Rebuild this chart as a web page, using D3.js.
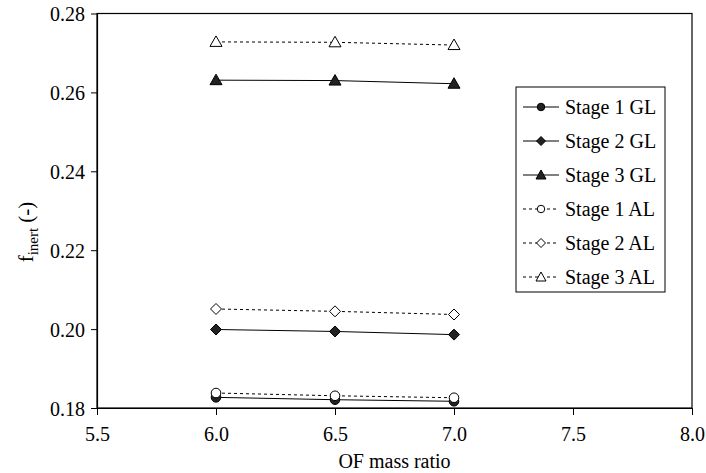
<!DOCTYPE html>
<html><head><meta charset="utf-8">
<script src="https://cdn.jsdelivr.net/npm/d3@7"></script>
<style>body{margin:0;background:#fff}svg{display:block}svg text{font-family:'Liberation Serif','Times New Roman',Times,'DejaVu Serif',serif !important;fill:#000}</style>
</head><body><svg id="c" width="706" height="473"></svg>
<script>
const ofRatio = [6.0, 6.5, 7.0];
const stage1GL = [0.1827, 0.1821, 0.1817];
const stage2GL = [0.1999, 0.1994, 0.1986];
const stage3GL = [0.2631, 0.2630, 0.2622];
const stage1AL = [0.1838, 0.1831, 0.1826];
const stage2AL = [0.2051, 0.2045, 0.2037];
const stage3AL = [0.2728, 0.2727, 0.2720];
const xTicks = [5.5, 6.0, 6.5, 7.0, 7.5, 8.0];
const yTicks = [0.18, 0.20, 0.22, 0.24, 0.26, 0.28];
const seriesNames = ["Stage 1 GL","Stage 2 GL","Stage 3 GL","Stage 1 AL","Stage 2 AL","Stage 3 AL"];

const series = [
  {name:seriesNames[0], v:stage1GL, shape:"circle", fill:true, dash:null},
  {name:seriesNames[1], v:stage2GL, shape:"diamond", fill:true, dash:null},
  {name:seriesNames[2], v:stage3GL, shape:"triangle", fill:true, dash:null},
  {name:seriesNames[3], v:stage1AL, shape:"circle", fill:false, dash:"3,3"},
  {name:seriesNames[4], v:stage2AL, shape:"diamond", fill:false, dash:"3,3"},
  {name:seriesNames[5], v:stage3AL, shape:"triangle", fill:false, dash:"3,3"}
];

const FONT = "'Liberation Serif','Times New Roman',Times,'DejaVu Serif',serif";
const L=97, R=692, T=13.5, B=408;
const svg = d3.select("#c");
const x = d3.scaleLinear().domain([5.5,8.0]).range([L,R]);
const y = d3.scaleLinear().domain([0.18,0.28]).range([B,T]);

svg.append("rect").attr("x",L).attr("y",T).attr("width",R-L).attr("height",B-T)
  .attr("fill","none").attr("stroke","#000").attr("stroke-width",1.2);

const xa = svg.append("g").attr("transform",`translate(0,${B})`)
  .call(d3.axisBottom(x).tickValues(xTicks).tickFormat(d3.format(".1f")).tickSize(7).tickSizeOuter(0).tickPadding(12));
const ya = svg.append("g").attr("transform",`translate(${L},0)`)
  .call(d3.axisLeft(y).tickValues(yTicks).tickFormat(d3.format(".2f")).tickSize(6).tickSizeOuter(0).tickPadding(6));
[xa,ya].forEach(g=>{
  g.attr("font-family",FONT).attr("font-size",20);
  g.select(".domain").attr("stroke","#000").attr("stroke-width",1.2);
  g.selectAll(".tick line").attr("stroke","#000");
  g.selectAll("text").attr("font-family",FONT).style("font-size","20px");
});
ya.selectAll("text").attr("dy","0.35em");

function symbolPath(shape){
  if(shape==="circle") return d3.symbol(d3.symbolCircle, 72)();
  if(shape==="diamond") return "M0,-5.5L5.5,0L0,5.5L-5.5,0Z";
  return "M0,-6L6,4.5L-6,4.5Z";
}
function symbolPathSmall(shape){
  if(shape==="circle") return d3.symbol(d3.symbolCircle, 44)();
  if(shape==="diamond") return "M0,-4.5L4.5,0L0,4.5L-4.5,0Z";
  return "M0,-5L5,4L-5,4Z";
}

const line = d3.line().x((d,i)=>x(ofRatio[i])).y(d=>y(d));
series.forEach(s=>{
  const g = svg.append("g");
  g.append("path").attr("d",line(s.v)).attr("fill","none").attr("stroke","#000")
    .attr("stroke-width",1).attr("stroke-dasharray",s.dash);
  g.selectAll("path.m").data(s.v).join("path").attr("class","m")
    .attr("d",symbolPath(s.shape))
    .attr("transform",(d,i)=>`translate(${x(ofRatio[i])},${y(d)})`)
    .attr("fill",s.fill?"#222":"#fff").attr("stroke","#000").attr("stroke-width",1);
});

const lg = svg.append("g").attr("font-family",FONT);
const lx=516, ly=87, lw=149, lh=205;
lg.append("rect").attr("x",lx).attr("y",ly).attr("width",lw).attr("height",lh)
  .attr("fill","#fff").attr("stroke","#000").attr("stroke-width",1);
const ls = d3.scaleBand().domain(seriesNames).range([ly+3, ly+lh+2]);
series.forEach(s=>{
  const cy = ls(s.name)+ls.bandwidth()/2;
  lg.append("line").attr("x1",523).attr("x2",559).attr("y1",cy).attr("y2",cy)
    .attr("stroke","#000").attr("stroke-width",1).attr("stroke-dasharray",s.dash);
  lg.append("path").attr("d",symbolPathSmall(s.shape)).attr("transform",`translate(541,${cy})`)
    .attr("fill",s.fill?"#222":"#fff").attr("stroke","#000");
  lg.append("text").attr("x",565).attr("y",cy).attr("dy","0.35em").attr("font-family",FONT).style("font-size","20px").text(s.name);
});

svg.append("text").attr("x",(L+R)/2).attr("y",468).attr("text-anchor","middle").attr("font-family",FONT).style("font-size","20px").text("OF mass ratio");
const yt = svg.append("text").attr("transform","translate(33,232) rotate(-90)").attr("text-anchor","middle").attr("font-family",FONT).style("font-size","21px");
yt.append("tspan").text("f");
yt.append("tspan").attr("dy",5).style("font-size","15px").text("inert");
yt.append("tspan").attr("dy",-5).text(" (-)");
</script></body></html>
